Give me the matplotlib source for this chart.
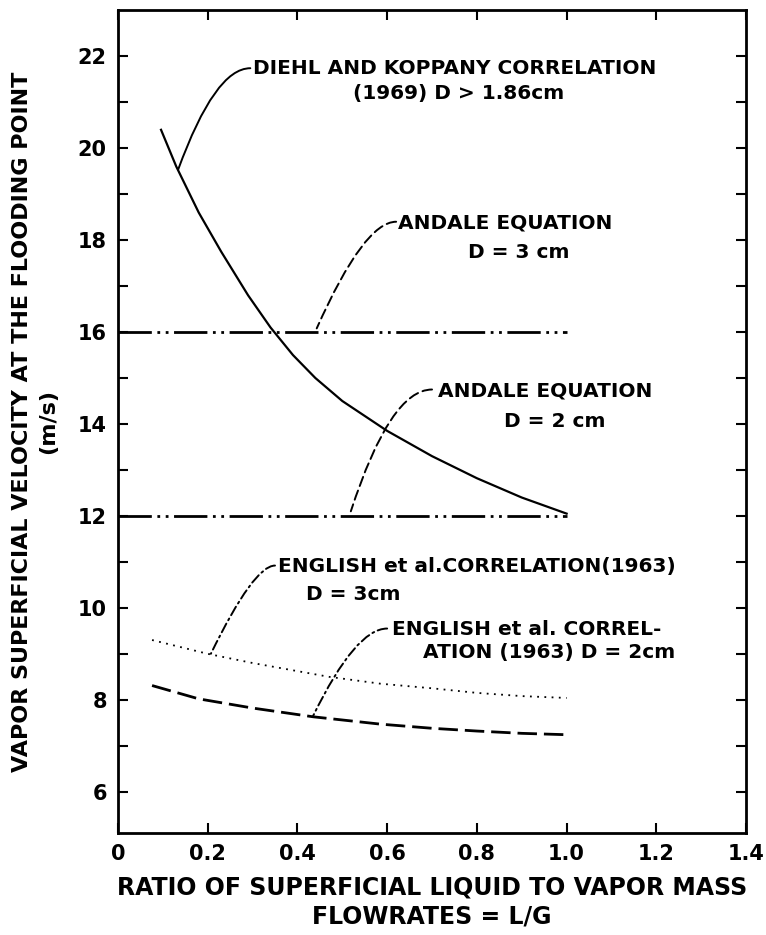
import numpy as np
import matplotlib
matplotlib.use("Agg")
import matplotlib.pyplot as plt

plt.rcParams['font.family'] = ['DejaVu Sans']
plt.rcParams['font.weight'] = 'bold'
plt.rcParams['axes.labelweight'] = 'bold'

# === Dados
diehl_x = [0.096, 0.13, 0.18, 0.23, 0.29, 0.34, 0.39, 0.44, 0.5, 0.6, 0.7, 0.8, 0.9, 1.0]
diehl_y = [20.4, 19.6, 18.6, 17.75, 16.8, 16.1, 15.5, 15.0, 14.5, 13.85, 13.3, 12.82, 12.4, 12.05]

andale_x = [0.0, 1.0]
andale_3cm_y = [16.0, 16.0]
andale_2cm_y = [12.0, 12.0]

english_3cm_x = [0.076, 0.2, 0.3, 0.47, 0.585, 0.7, 0.8, 0.9, 1.0]
english_3cm_y = [9.3, 9.0, 8.8, 8.5, 8.35, 8.25, 8.15, 8.08, 8.04]

english_2cm_x = [0.076, 0.18, 0.3, 0.435, 0.585, 0.7, 0.8, 0.9, 1.0]
english_2cm_y = [8.31, 8.02, 7.82, 7.63, 7.47, 7.38, 7.32, 7.27, 7.24]

x_ticks = [0, 0.2, 0.4, 0.6, 0.8, 1.0, 1.2, 1.4]
x_ticklabels = ['0', '0.2', '0.4', '0.6', '0.8', '1.0', '1.2', '1.4']
y_ticks = [6, 8, 10, 12, 14, 16, 18, 20, 22]

# === Gráfico
fig = plt.figure(figsize=(7.66, 9.35), dpi=100)
ax = fig.add_axes([0.154, 0.109, 0.820, 0.880])

ax.plot(diehl_x, diehl_y, color='black', lw=1.6)
ax.plot(andale_x, andale_3cm_y, color='black', lw=2.0,
        linestyle=(0, (12, 2, 1, 2, 1, 2)))
ax.plot(andale_x, andale_2cm_y, color='black', lw=2.0,
        linestyle=(0, (12, 2, 1, 2, 1, 2)))
ax.plot(english_3cm_x, english_3cm_y, color='black', lw=1.3,
        linestyle=(0, (1, 3)))
ax.plot(english_2cm_x, english_2cm_y, color='black', lw=2.0,
        linestyle=(0, (7, 2.5)))

# linhas de chamada (ponta -> início do texto)
leaders = [
    ((0.134, 19.53), (0.295, 21.74), 70, '-'),
    ((0.443, 16.08), (0.62, 18.4), 66, (0, (5, 2.5))),
    ((0.519, 12.1), (0.70, 14.75), 72, (0, (5, 2.5))),
    ((0.207, 9.0), (0.35, 10.92), 64, (0, (5, 2, 1, 2))),
    ((0.435, 7.65), (0.60, 9.55), 64, (0, (5, 2, 1, 2))),
]
for tip, start, ang, ls in leaders:
    ax.annotate('', xy=tip, xytext=start,
                arrowprops=dict(arrowstyle='-', color='black', lw=1.4,
                                linestyle=ls, shrinkA=0, shrinkB=0,
                                connectionstyle=f'angle3,angleA=0,angleB={ang}'))

fs = 14.5
ax.text(0.30, 21.74, 'DIEHL AND KOPPANY CORRELATION', fontsize=fs, va='center')
ax.text(0.524, 21.2, '(1969) D > 1.86cm', fontsize=fs, va='center')
ax.text(0.625, 18.38, 'ANDALE EQUATION', fontsize=fs, va='center')
ax.text(0.78, 17.73, 'D = 3 cm', fontsize=fs, va='center')
ax.text(0.713, 14.72, 'ANDALE EQUATION', fontsize=fs, va='center')
ax.text(0.86, 14.06, 'D = 2 cm', fontsize=fs, va='center')
ax.text(0.357, 10.9, 'ENGLISH et al.CORRELATION(1963)', fontsize=fs, va='center')
ax.text(0.42, 10.3, 'D = 3cm', fontsize=fs, va='center')
ax.text(0.61, 9.52, 'ENGLISH et al. CORREL-', fontsize=fs, va='center')
ax.text(0.68, 9.03, 'ATION (1963) D = 2cm', fontsize=fs, va='center')

ax.set_xlim(0, 1.4)
ax.set_ylim(5.1, 23)
ax.set_xticks(x_ticks)
ax.set_xticklabels(x_ticklabels)
ax.set_yticks(y_ticks)
ax.set_yticks(np.arange(7, 23, 2), minor=True)
ax.tick_params(which='both', direction='in', top=True, right=True,
               labelsize=15, width=1.5, pad=8, length=7)
for s in ax.spines.values():
    s.set_linewidth(2)

ax.set_xlabel('RATIO OF SUPERFICIAL LIQUID TO VAPOR MASS\nFLOWRATES = L/G',
              fontsize=17, linespacing=1.25, labelpad=8)
ax.set_ylabel('VAPOR SUPERFICIAL VELOCITY AT THE FLOODING POINT\n(m/s)',
              fontsize=16, linespacing=1.4, labelpad=14)

fig.savefig('out.png', dpi=100)
